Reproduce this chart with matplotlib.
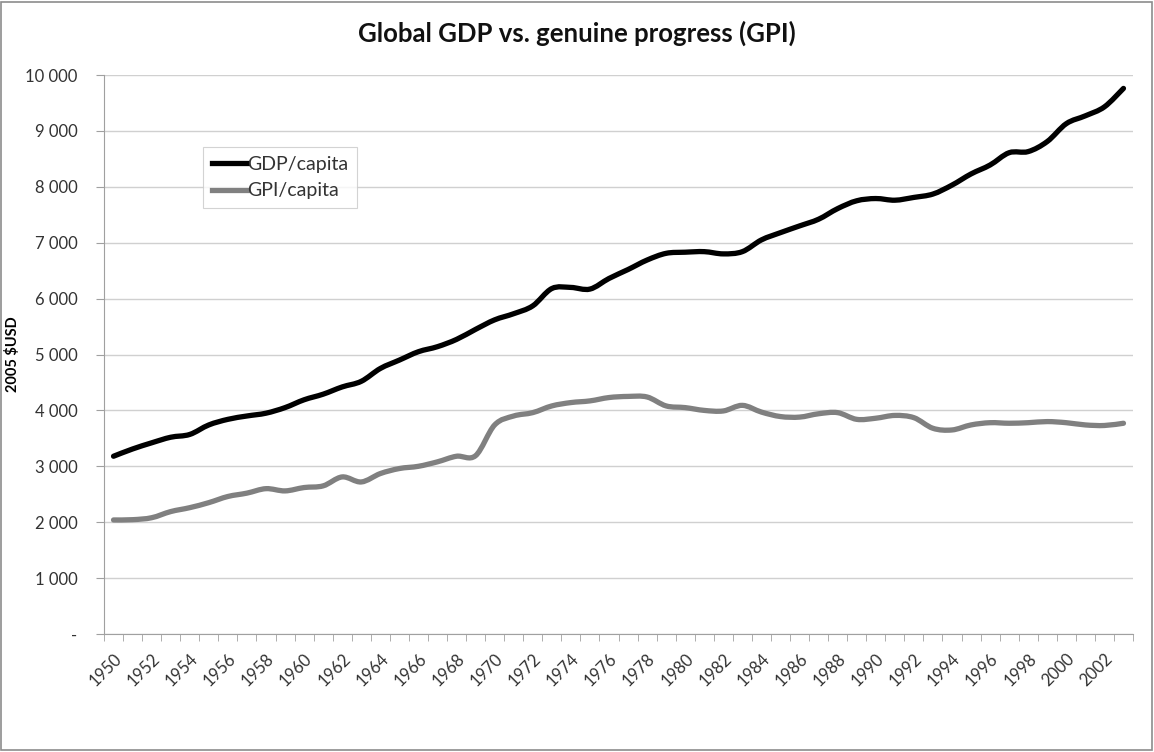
import matplotlib
matplotlib.use("Agg")
import matplotlib.pyplot as plt
from matplotlib.ticker import FuncFormatter, FixedLocator
from matplotlib.patches import Rectangle, PathPatch
from matplotlib.path import Path
from matplotlib.lines import Line2D

years = list(range(1950, 2004))
gdp = [3180, 3310, 3420, 3520, 3570, 3740, 3840, 3900, 3950, 4050,
       4190, 4290, 4420, 4520, 4750, 4900, 5050, 5140, 5270, 5450,
       5620, 5730, 5870, 6180, 6200, 6170, 6360, 6520, 6690, 6810,
       6830, 6840, 6800, 6840, 7050, 7180, 7300, 7420, 7610, 7750,
       7790, 7760, 7810, 7870, 8030, 8230, 8390, 8610, 8630, 8810,
       9130, 9270, 9430, 9760]
gpi = [2040, 2045, 2080, 2190, 2260, 2350, 2460, 2520, 2600, 2560,
       2620, 2650, 2810, 2720, 2870, 2960, 3000, 3080, 3180, 3190,
       3740, 3900, 3960, 4080, 4140, 4170, 4230, 4250, 4240, 4080,
       4050, 4000, 3990, 4090, 3970, 3890, 3880, 3940, 3960, 3840,
       3860, 3910, 3870, 3680, 3650, 3740, 3780, 3770, 3780, 3800,
       3780, 3740, 3730, 3770]
series_names = ["GDP/capita", "GPI/capita"]
title = "Global GDP vs. genuine progress (GPI)"
ylabel = "2005 $USD"

font = "Lato"
colors = ["black", "#808080"]


def smooth_path(xs, ys, t=1/6):
    """Smoothed (Bezier) rendering through the data points, like a spreadsheet 'smoothed line'."""
    n = len(xs)
    verts = [(xs[0], ys[0])]
    codes = [Path.MOVETO]
    for i in range(n - 1):
        x0, y0 = (xs[i - 1], ys[i - 1]) if i > 0 else (xs[i], ys[i])
        x1, y1 = xs[i], ys[i]
        x2, y2 = xs[i + 1], ys[i + 1]
        x3, y3 = (xs[i + 2], ys[i + 2]) if i + 2 < n else (x2, y2)
        c1 = (x1 + (x2 - x0) * t, y1 + (y2 - y0) * t)
        c2 = (x2 - (x3 - x1) * t, y2 - (y3 - y1) * t)
        verts += [c1, c2, (x2, y2)]
        codes += [Path.CURVE4] * 3
    return Path(verts, codes)


fig = plt.figure(figsize=(11.54, 7.52), dpi=100)
fig.patch.set_facecolor("white")
fig.add_artist(Rectangle((0.001, 0.002), 0.997, 0.996, transform=fig.transFigure,
                         fill=False, edgecolor="#8c8c8c", linewidth=1.2))

ax = fig.add_axes([104/1154, 1-634/752, (1133-104)/1154, (634-75)/752])
x = list(range(len(years)))
for vals, c in zip([gdp, gpi], colors):
    ax.add_patch(PathPatch(smooth_path(x, vals), facecolor="none", edgecolor=c,
                           lw=3.8, joinstyle="round", capstyle="round", zorder=3))

ax.set_xlim(-0.5, len(years) - 0.5)
ax.set_ylim(0, 10000)
ax.set_yticks(range(0, 10001, 1000))
ax.yaxis.set_major_formatter(FuncFormatter(
    lambda v, p: "-" if v == 0 else f"{int(v):,}".replace(",", " ")))
ax.grid(axis="y", color="#d0d0d0", lw=1.0)
ax.set_axisbelow(True)

lab_pos = [i for i, y in enumerate(years) if y % 2 == 0]
ax.set_xticks(lab_pos)
ax.set_xticklabels([str(years[i]) for i in lab_pos], rotation=45, ha="right",
                   rotation_mode="anchor", fontsize=12, family=font, color="#333333")
ax.xaxis.set_minor_locator(FixedLocator([i - 0.5 for i in range(len(years) + 1)]))
ax.tick_params(axis="x", which="major", length=0, pad=12)
ax.tick_params(axis="x", which="minor", length=5, color="#a0a0a0")
ax.tick_params(axis="y", length=6, color="#a0a0a0", labelsize=12, pad=13,
               labelcolor="#333333")
for t in ax.get_yticklabels():
    t.set_family(font)

for s in ["top", "right"]:
    ax.spines[s].set_visible(False)
ax.spines["left"].set_color("#a0a0a0")
ax.spines["bottom"].set_color("#a0a0a0")

ax.set_ylabel(ylabel, fontsize=10.5, fontweight="bold", family=font, labelpad=4)
fig.text(0.5, 1 - 33/752, title, ha="center", va="center", fontsize=18.5,
         fontweight="bold", family=font, color="#111111")

handles = [Line2D([], [], color=c, lw=3.8) for c in colors]
leg = ax.legend(handles, series_names, loc="upper left",
                bbox_to_anchor=((203-104)/1029, 1-(147-75)/559),
                frameon=True, fancybox=False, edgecolor="#c8c8c8",
                prop={"family": font, "size": 14}, handlelength=1.8, handletextpad=0.0,
                borderpad=0.45, labelspacing=0.5, borderaxespad=0)
leg.get_frame().set_linewidth(0.8)
for txt in leg.get_texts():
    txt.set_color("#333333")

fig.savefig("out.png", dpi=100, facecolor="white")
